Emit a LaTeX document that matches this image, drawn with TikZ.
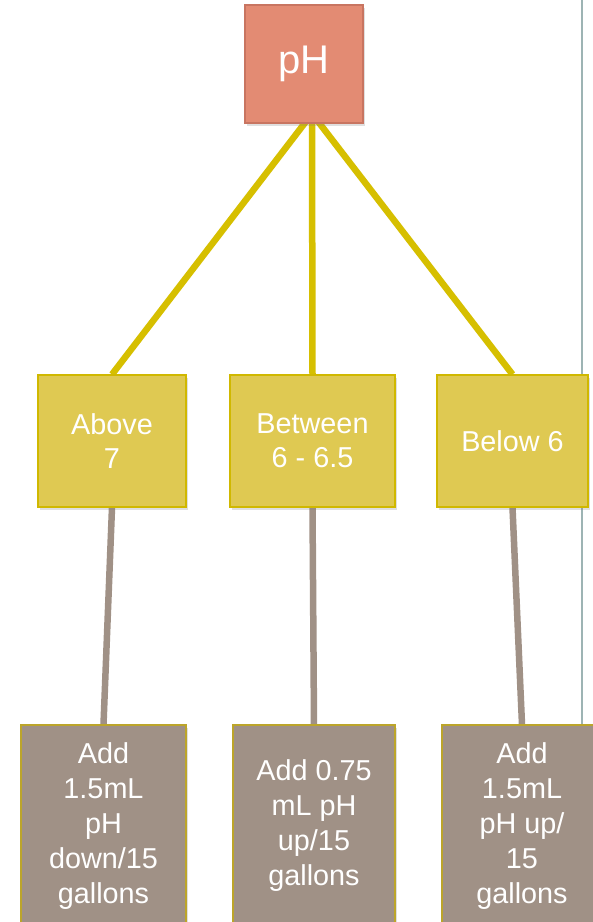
\documentclass[tikz,border=0pt]{standalone}
\usepackage{fontspec}
\setmainfont{Liberation Sans}
\usetikzlibrary{shadows,calc}
\definecolor{phfill}{HTML}{E38B73}
\definecolor{phdraw}{HTML}{C87561}
\definecolor{yfill}{HTML}{DFC952}
\definecolor{ydraw}{HTML}{D0B800}
\definecolor{yline}{HTML}{D6BF00}
\definecolor{bfill}{HTML}{A09186}
\definecolor{bdraw}{HTML}{BCA52A}
\definecolor{vline}{HTML}{9DB4B4}
\pgfdeclarelayer{background}
\pgfsetlayers{background,main}
\begin{document}
\begin{tikzpicture}[x=1pt,y=-1pt,
  box/.style={rectangle, inner sep=0pt, align=center, text=white, line width=1.2pt,
    drop shadow={shadow xshift=1.5pt, shadow yshift=-2.5pt, opacity=0.25}},
  phbox/.style={box, fill=phfill, draw=phdraw, minimum width=118pt, minimum height=118pt,
    font=\fontsize{40}{46}\selectfont},
  condbox/.style={box, fill=yfill, draw=ydraw, minimum height=132pt,
    font=\fontsize{28.8}{34}\selectfont},
  actbox/.style={box, fill=bfill, draw=bdraw, minimum height=202pt,
    font=\fontsize{28.8}{35}\selectfont},
  yconn/.style={draw=yline, line width=6.5pt},
  bconn/.style={draw=bfill, line width=6.5pt},
  sepline/.style={draw=vline, line width=2pt}]
\useasboundingbox (0,0) rectangle (593,922);
\clip (0,0) rectangle (593,922);

\node[phbox] (ph) at (304,64) {pH};
\node[condbox, minimum width=148pt] (above) at (112,441) {Above\\7};
\node[condbox, minimum width=165pt] (between) at (312.5,441) {Between\\6 - 6.5};
\node[condbox, minimum width=151pt] (below) at (512.5,441) {Below 6};
\node[actbox, minimum width=165pt] (a1) at (103.5,826) {Add\\1.5mL\\pH\\down/15\\gallons};
\node[actbox, minimum width=162pt] (a2) at (314,826) {Add 0.75\\mL pH\\up/15\\gallons};
\node[actbox, minimum width=160pt] (a3) at (522,826) {Add\\1.5mL\\pH up/\\15\\gallons};

\begin{pgfonlayer}{background}
\fill[white] (0,0) rectangle (593,922);
\coordinate (top) at (582,0);
\coordinate (bot) at (582,922);
\draw[sepline] (top) -- (bot);
\coordinate (hub) at ($(ph.south)+(8,-10)$);
\draw[yconn] (hub) -- (above.north);
\draw[yconn] (hub) -- (between.north);
\draw[yconn] (hub) -- (below.north);
\draw[bconn] (above.south) -- (a1.north);
\draw[bconn] (between.south) -- (a2.north);
\draw[bconn] (below.south) -- (a3.north);
\end{pgfonlayer}
\end{tikzpicture}
\end{document}
